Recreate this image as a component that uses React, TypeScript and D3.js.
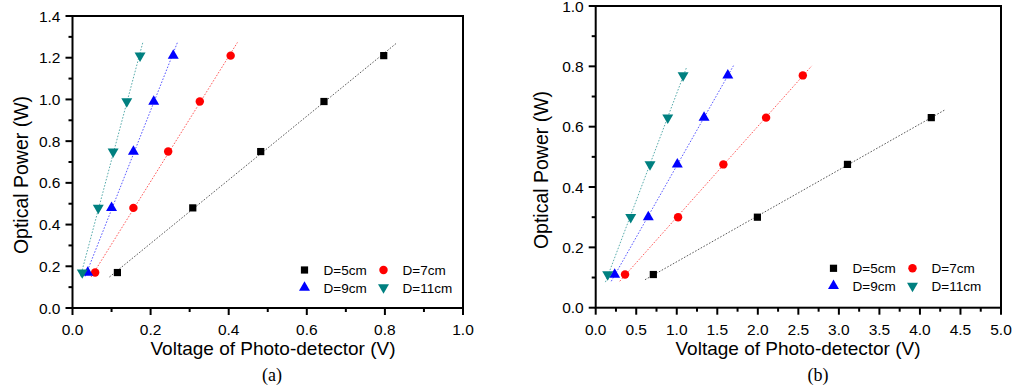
import React from "react";
import * as d3 from "d3";

// Optical power levels (W) measured at each distance
const powerA = [0.17, 0.48, 0.75, 0.99, 1.21];
const powerB = [0.11, 0.30, 0.475, 0.63, 0.77];

// Photo-detector voltages (V), panel (a)
const voltA5 = [0.115, 0.308, 0.482, 0.644, 0.797];
const voltA7 = [0.058, 0.156, 0.245, 0.326, 0.405];
const voltA9 = [0.039, 0.100, 0.156, 0.208, 0.258];
const voltA11 = [0.025, 0.066, 0.104, 0.139, 0.173];

// Photo-detector voltages (V), panel (b)
const voltB5 = [0.711, 1.995, 3.106, 4.14];
const voltB7 = [0.362, 1.016, 1.575, 2.102, 2.555];
const voltB9 = [0.234, 0.649, 1.007, 1.337, 1.63];
const voltB11 = [0.148, 0.432, 0.670, 0.889, 1.078];

const seriesNames = ["D=5cm", "D=7cm", "D=9cm", "D=11cm"];
const seriesColors = ["#000000", "#ff0000", "#0000ff", "#008080"];
const seriesShapes = ["square", "circle", "up", "down"];

const yTicksA = [0, 0.2, 0.4, 0.6, 0.8, 1.0, 1.2, 1.4];
const xTicksA = [0, 0.2, 0.4, 0.6, 0.8, 1.0];
const yTicksB = [0, 0.2, 0.4, 0.6, 0.8, 1.0];
const xTicksB = [0, 0.5, 1.0, 1.5, 2.0, 2.5, 3.0, 3.5, 4.0, 4.5, 5.0];

const FONT = "'Liberation Sans', Arimo, Arial, sans-serif";

type Panel = {
  key: string;
  caption: string;
  x0: number; x1: number; y0: number; y1: number;
  xMax: number; yMax: number;
  xTicks: number[]; yTicks: number[];
  xMinor: number; yMinor: number;
  power: number[];
  volts: number[][];
  legendX: number; legendY: number;
  titleY: number; yTitleX: number;
  xTitleX: number; captionX: number;
};

const panels: Panel[] = [
  {
    key: "a", caption: "(a)",
    x0: 72.5, x1: 463, y0: 308, y1: 16,
    xMax: 1.0, yMax: 1.4,
    xTicks: xTicksA, yTicks: yTicksA, xMinor: 0.1, yMinor: 0.1,
    power: powerA,
    volts: [voltA5, voltA7, voltA9, voltA11],
    legendX: 304.5, legendY: 270,
    titleY: 175, yTitleX: 28,
    xTitleX: 273, captionX: 272,
  },
  {
    key: "b", caption: "(b)",
    x0: 595.7, x1: 1001, y0: 307.7, y1: 6,
    xMax: 5.0, yMax: 1.0,
    xTicks: xTicksB, yTicks: yTicksB, xMinor: 0.25, yMinor: 0.1,
    power: powerB,
    volts: [voltB5, voltB7, voltB9, voltB11],
    legendX: 833.5, legendY: 268.3,
    titleY: 170, yTitleX: 548,
    xTitleX: 798, captionX: 818,
  },
];

const fmt = d3.format(".1f");

function markerPath(shape: string): string {
  if (shape === "square") return d3.symbol(d3.symbolSquare, 52)()!;
  if (shape === "circle") return d3.symbol(d3.symbolCircle, 56)()!;
  return d3.symbol(d3.symbolTriangle, 52)()!;
}

function Marker({ shape, color, x, y }: { shape: string; color: string; x: number; y: number }) {
  const rot = shape === "down" ? " rotate(180)" : "";
  return <path d={markerPath(shape)} fill={color} transform={`translate(${x},${y})${rot}`} />;
}

// least-squares line of power vs voltage
function fit(xs: number[], ys: number[]) {
  const mx = d3.mean(xs)!;
  const my = d3.mean(ys)!;
  let sxy = 0, sxx = 0;
  xs.forEach((x, i) => { sxy += (x - mx) * (ys[i] - my); sxx += (x - mx) * (x - mx); });
  const b = sxy / sxx;
  return { a: my - b * mx, b };
}

function PanelView({ p }: { p: Panel }) {
  const x = d3.scaleLinear().domain([0, p.xMax]).range([p.x0, p.x1]);
  const y = d3.scaleLinear().domain([0, p.yMax]).range([p.y0, p.y1]);

  const xMinorTicks = d3.range(0, p.xMax + 1e-9, p.xMinor).filter(
    (v) => !p.xTicks.some((t) => Math.abs(t - v) < 1e-9));
  const yMinorTicks = d3.range(0, p.yMax + 1e-9, p.yMinor).filter(
    (v) => !p.yTicks.some((t) => Math.abs(t - v) < 1e-9));

  const line = d3.line<[number, number]>().x((d) => x(d[0])).y((d) => y(d[1]));

  return (
    <g>
      {/* fitted dotted lines */}
      {p.volts.map((vs, si) => {
        const ys = p.power.slice(0, vs.length);
        const { a, b } = fit(vs, ys);
        const lo = d3.min(vs)!, hi = d3.max(vs)!;
        const span = hi - lo;
        const xa = lo - span * 0.03, xb = hi + span * 0.05;
        return (
          <path key={"f" + si}
            d={line([[xa, a + b * xa], [xb, a + b * xb]])!}
            fill="none" stroke={seriesColors[si]} strokeOpacity={0.65}
            strokeWidth={1} strokeDasharray="1.6,1.6" />
        );
      })}
      {/* data markers */}
      {p.volts.map((vs, si) =>
        vs.map((v, i) => (
          <Marker key={`m${si}-${i}`} shape={seriesShapes[si]} color={seriesColors[si]}
            x={x(v)} y={y(p.power[i])} />
        ))
      )}

      {/* frame */}
      <rect x={p.x0} y={p.y1} width={p.x1 - p.x0} height={p.y0 - p.y1}
        fill="none" stroke="#000" strokeWidth={2} />

      {/* x ticks */}
      {p.xTicks.map((t) => (
        <g key={"xt" + t}>
          <line x1={x(t)} x2={x(t)} y1={p.y0} y2={p.y0 + 7} stroke="#000" strokeWidth={2} />
          <text x={x(t)} y={p.y0 + 27} textAnchor="middle" fontSize={15.5} fontFamily={FONT}>
            {fmt(t)}
          </text>
        </g>
      ))}
      {xMinorTicks.map((t) => (
        <line key={"xm" + t} x1={x(t)} x2={x(t)} y1={p.y0} y2={p.y0 + 4} stroke="#000" strokeWidth={2} />
      ))}

      {/* y ticks */}
      {p.yTicks.map((t) => (
        <g key={"yt" + t}>
          <line x1={p.x0 - 7} x2={p.x0} y1={y(t)} y2={y(t)} stroke="#000" strokeWidth={2} />
          <text x={p.x0 - 12} y={y(t) + 5.5} textAnchor="end" fontSize={15.5} fontFamily={FONT}>
            {fmt(t)}
          </text>
        </g>
      ))}
      {yMinorTicks.map((t) => (
        <line key={"ym" + t} x1={p.x0 - 4} x2={p.x0} y1={y(t)} y2={y(t)} stroke="#000" strokeWidth={2} />
      ))}

      {/* axis titles */}
      <text x={p.xTitleX} y={p.y0 + 47} textAnchor="middle" fontSize={19} fontFamily={FONT}>
        Voltage of Photo-detector (V)
      </text>
      <text transform={`translate(${p.yTitleX},${p.titleY}) rotate(-90)`} textAnchor="middle"
        fontSize={19.5} fontFamily={FONT}>
        Optical Power (W)
      </text>

      {/* legend */}
      {seriesNames.map((name, si) => {
        const col = si % 2, row = Math.floor(si / 2);
        const mx = p.legendX + col * 79;
        const my = p.legendY + row * 17.5;
        return (
          <g key={"lg" + si}>
            <Marker shape={seriesShapes[si]} color={seriesColors[si]} x={mx} y={my} />
            <text x={mx + 19} y={my + 5} fontSize={13.5} fontFamily={FONT}>{name}</text>
          </g>
        );
      })}

      {/* caption */}
      <text x={p.captionX} y={381} textAnchor="middle" fontSize={18}
        fontFamily="'Liberation Serif', 'Times New Roman', serif">
        {p.caption}
      </text>
    </g>
  );
}

export default function App() {
  return (
    <svg width={1015} height={392} style={{ position: "absolute", left: 0, top: 0, background: "#fff" }}>
      <rect width={1015} height={392} fill="#fff" />
      {panels.map((p) => <PanelView key={p.key} p={p} />)}
    </svg>
  );
}
